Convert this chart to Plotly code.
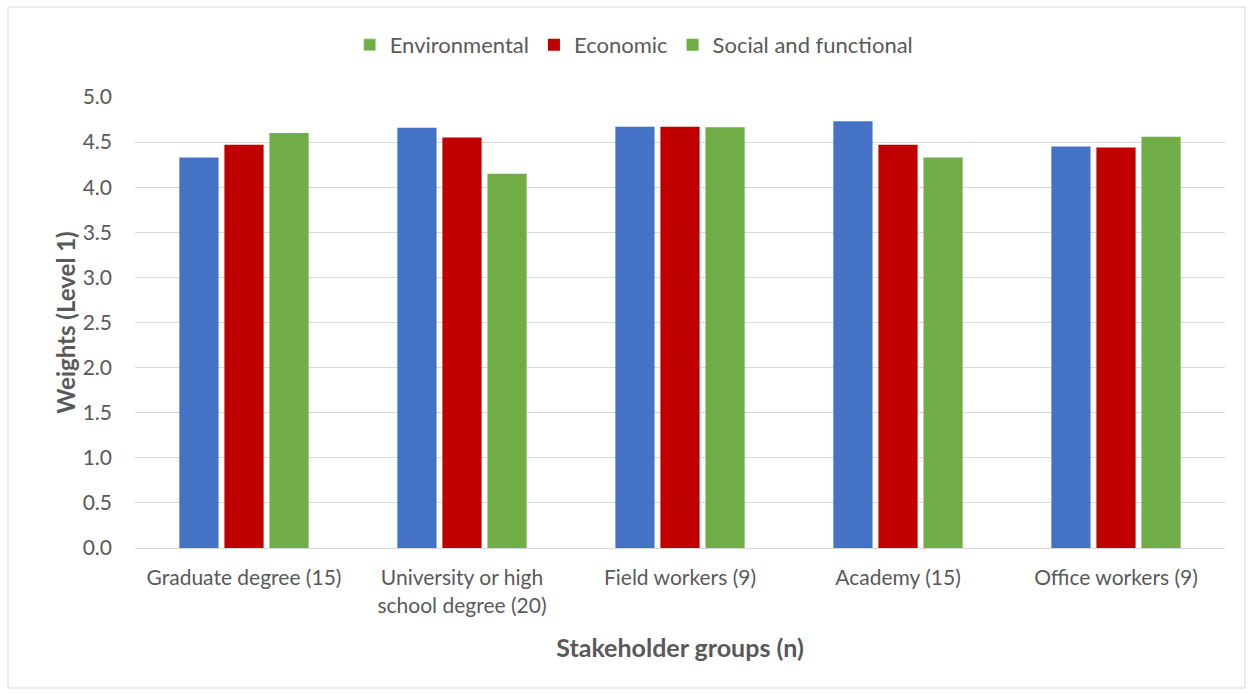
import plotly.graph_objects as go

categories = ["Graduate degree (15)", "University or high<br>school degree (20)",
              "Field workers (9)", "Academy (15)", "Office workers (9)"]
environmental = [4.33, 4.66, 4.67, 4.73, 4.45]
economic = [4.47, 4.55, 4.67, 4.47, 4.44]
social = [4.60, 4.15, 4.665, 4.33, 4.56]
y_ticks = [0.0, 0.5, 1.0, 1.5, 2.0, 2.5, 3.0, 3.5, 4.0, 4.5, 5.0]

BLUE = "#4472C4"
RED = "#C00000"
GREEN = "#70AD47"
TXT = "#595959"
FONT = "Lato"

fig = go.Figure()
fig.add_trace(go.Bar(x=categories, y=environmental, name="Environmental",
                     marker=dict(color=BLUE, line=dict(width=0)), showlegend=False,
                     legendgroup="env", offsetgroup="a"))
# legend swatch as shown in the original (green)
fig.add_trace(go.Bar(x=[categories[0]], y=[None], name="Environmental",
                     marker=dict(color=GREEN), legendgroup="env", showlegend=True,
                     hoverinfo="skip", offsetgroup="a"))
fig.add_trace(go.Bar(x=categories, y=economic, name="Economic",
                     marker=dict(color=RED, line=dict(width=0)), offsetgroup="b"))
fig.add_trace(go.Bar(x=categories, y=social, name="Social and functional",
                     marker=dict(color=GREEN, line=dict(width=0)), offsetgroup="c"))

fig.update_layout(
    width=1253, height=694,
    paper_bgcolor="white", plot_bgcolor="white",
    margin=dict(l=135, r=28, t=97, b=146),
    barmode="group", bargap=0.38, bargroupgap=0.13,
    font=dict(family=FONT, color=TXT, size=21),
    legend=dict(orientation="h", x=0.458, xanchor="center", y=1 - 45/694, yanchor="middle",
                yref="container", font=dict(size=22, color=TXT, family=FONT),
                traceorder="normal"),
    xaxis=dict(showgrid=False, showline=True, linecolor="#D9D9D9", linewidth=1,
               ticks="", tickfont=dict(size=21, color=TXT, family=FONT),
               ticklabelstandoff=11,
               title=dict(text="<b>Stakeholder groups (n)</b>",
                          font=dict(size=25, color=TXT, family=FONT), standoff=23)),
    yaxis=dict(range=[0, 5.0], tickvals=y_ticks,
               ticktext=[f"{v:.1f}" for v in y_ticks],
               showgrid=True, gridcolor="#D9D9D9", gridwidth=1,
               zeroline=False, showline=False, ticks="",
               ticklabelstandoff=22,
               tickfont=dict(size=21, color=TXT, family=FONT),
               title=dict(text="<b>Weights (Level 1)</b>",
                          font=dict(size=24, color=TXT, family=FONT), standoff=0)),
    shapes=[dict(type="rect", xref="paper", yref="paper",
                 x0=-127/1090, x1=1+20/1090, y0=-140/451, y1=1+90/451,
                 line=dict(color="#D9D9D9", width=1), fillcolor="rgba(0,0,0,0)")],
)

fig.write_html("out.html")
